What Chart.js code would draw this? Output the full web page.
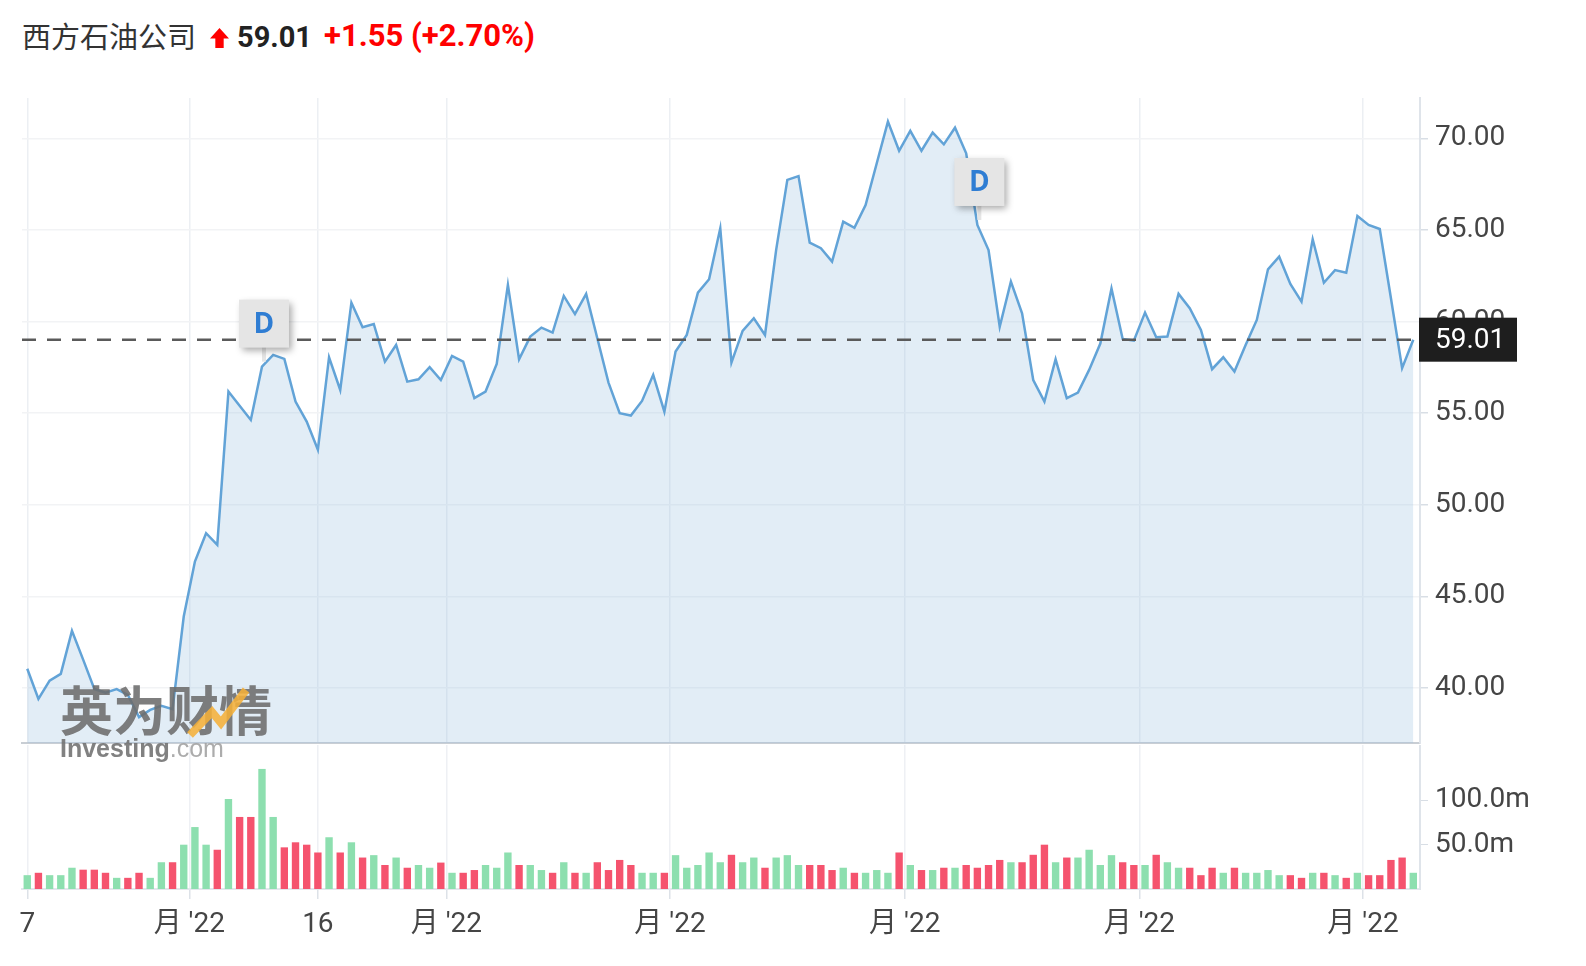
<!DOCTYPE html>
<html>
<head>
<meta charset="utf-8">
<script src="https://cdn.jsdelivr.net/npm/chart.js@4.4.1/dist/chart.umd.min.js"></script>
<style>
  body { margin: 0; background: #fff; width: 1586px; height: 966px; overflow: hidden; position: relative; font-family: Roboto, "Noto Sans CJK SC", sans-serif; }
  .hd { position: absolute; line-height: 40px; white-space: nowrap; }
  #name { left: 22px; top: 14px; font: 29px "Noto Sans CJK SC", sans-serif; color: #333; }
  #arrow { position: absolute; left: 210px; top: 28px; width: 19px; height: 20px; background: #f00;
           clip-path: polygon(50% 0, 100% 52%, 72% 52%, 72% 100%, 28% 100%, 28% 52%, 0 52%); }
  #last { left: 237px; top: 20px; font: bold 29px Roboto, sans-serif; color: #222; }
  #chg { left: 324px; top: 17px; font: bold 31px Roboto, sans-serif; color: #f00; }
  #price { position: absolute; left: 0; top: 90px; z-index: 2; }
  #vol { position: absolute; left: 0; top: 745px; z-index: 1; }
</style>
</head>
<body>
<span class="hd" id="name">西方石油公司</span>
<div id="arrow"></div>
<span class="hd" id="last">59.01</span>
<span class="hd" id="chg">+1.55 (+2.70%)</span>
<canvas id="price" width="1586" height="680"></canvas>
<canvas id="vol" width="1586" height="221"></canvas>
<script>
// daily closes
const closes = [
  41.05, 39.41, 40.40, 40.77, 43.12, 41.55, 39.95, 39.75, 39.94, 39.63,
  38.41, 38.81, 39.03, 38.85, 43.90, 46.90, 48.45, 47.81, 56.18, 55.40,
  54.63, 57.54, 58.18, 57.96, 55.63, 54.54, 53.00, 58.05, 56.27, 61.03,
  59.69, 59.87, 57.81, 58.72, 56.72, 56.85, 57.51, 56.81, 58.12, 57.81,
  55.82, 56.18, 57.69, 62.00, 57.94, 59.18, 59.67, 59.40, 61.40, 60.41,
  61.51, 59.09, 56.67, 55.00, 54.87, 55.67, 57.09, 55.08, 58.36, 59.27,
  61.58, 62.31, 65.09, 57.76, 59.49, 60.18, 59.27, 63.91, 67.73, 67.94,
  64.31, 64.00, 63.27, 65.45, 65.12, 66.36, 68.64, 70.91, 69.32, 70.41,
  69.32, 70.31, 69.67, 70.58, 69.18, 65.27, 63.90, 59.72, 62.18, 60.45,
  56.81, 55.63, 57.94, 55.82, 56.12, 57.36, 58.80, 61.80, 59.05, 58.96,
  60.49, 59.14, 59.18, 61.51, 60.73, 59.54, 57.40, 58.05, 57.27, 58.72,
  60.09, 62.85, 63.54, 62.05, 61.09, 64.49, 62.12, 62.81, 62.67, 65.76,
  65.27, 65.05, 61.27, 57.46, 59.01
];
// volume in millions
const volumes = [
  15.6, 18.3, 15.6, 15.6, 24.0, 21.8, 21.8, 18.3, 12.6, 12.6,
  18.3, 12.6, 30.2, 30.2, 50.0, 69.9, 50.0, 44.3, 101.5, 81.3,
  81.3, 135.5, 81.3, 47.0, 52.7, 50.0, 41.2, 58.4, 41.2, 52.7,
  35.5, 38.2, 27.1, 35.5, 24.0, 27.1, 24.0, 29.8, 18.3, 18.3,
  21.4, 27.1, 24.0, 41.2, 27.1, 27.1, 21.4, 18.3, 30.2, 18.3,
  18.3, 30.2, 21.4, 32.8, 27.1, 18.3, 18.3, 18.3, 38.2, 24.0,
  27.1, 41.2, 30.2, 38.6, 30.2, 35.5, 24.0, 35.5, 38.2, 27.1,
  27.1, 27.1, 21.4, 24.0, 18.3, 18.3, 21.4, 18.3, 41.2, 27.1,
  21.4, 21.4, 24.0, 24.0, 27.1, 24.0, 27.1, 32.8, 30.2, 30.2,
  38.6, 50.0, 30.2, 35.5, 35.5, 44.3, 27.1, 38.2, 30.2, 27.1,
  27.1, 38.6, 30.2, 24.0, 24.0, 15.6, 24.0, 18.3, 24.0, 18.3,
  18.3, 21.4, 15.6, 15.6, 12.6, 18.3, 18.3, 15.6, 12.6, 18.3,
  15.6, 15.6, 32.8, 35.5, 18.3
];
const dividendDays = [21, 85];
const tickPositions = [0, 14.5, 26, 37.5, 57.5, 78.5, 99.5, 119.5];
const tickLabels = ['7', "月 '22", '16', "月 '22", "月 '22", "月 '22", "月 '22", "月 '22"];
const priceTicks = [40, 45, 50, 55, 60, 65, 70];
const volTicks = [50, 100];

const lastClose = closes[closes.length - 1];
const xMin = -0.47, xMax = 124.6;
const priceTop = 90;

Chart.defaults.font.family = 'Roboto, "Noto Sans CJK SC", sans-serif';
Chart.defaults.animation = false;

const pricePts = closes.map((c, i) => ({ x: i, y: c }));
const volPts = volumes.map((v, i) => ({ x: i, y: v }));
const volColors = closes.map((c, i) => (i === 0 || c >= closes[i - 1]) ? '#8ddfaf' : '#f5536e');

// keep chart.js from adding room for half a tick label
const noPadY = s => { s.width = 166; s.paddingTop = 0; s.paddingBottom = 0; };
const noPadX = h => s => { s.height = h; s.paddingLeft = 0; s.paddingRight = 0; };

const watermark = {
  id: 'watermark',
  afterDatasetsDraw(chart) {
    const ctx = chart.ctx;
    ctx.save();
    ctx.globalAlpha = 0.88;
    ctx.fillStyle = '#6c6c6c';
    ctx.textBaseline = 'middle';
    ctx.font = 'bold 53px "Noto Sans CJK SC"';
    ctx.fillText('英为财情', 60, 711 - priceTop);
    ctx.strokeStyle = '#f5b03a';
    ctx.lineWidth = 8;
    ctx.beginPath();
    ctx.moveTo(190, 735 - priceTop);
    ctx.lineTo(212, 712 - priceTop);
    ctx.lineTo(221, 723 - priceTop);
    ctx.lineTo(246, 690 - priceTop);
    ctx.stroke();
    ctx.fillStyle = '#707070';
    ctx.font = 'bold 25px "Liberation Sans"';
    ctx.fillText('Investing', 60, 750 - priceTop);
    const w = ctx.measureText('Investing').width;
    ctx.fillStyle = '#a0a0a0';
    ctx.font = '25px "Liberation Sans"';
    ctx.fillText('.com', 60 + w, 750 - priceTop);
    ctx.restore();
  }
};

const markers = {
  id: 'markers',
  afterDraw(chart) {
    const ctx = chart.ctx;
    const xs = chart.scales.x, ys = chart.scales.y;
    ctx.save();
    dividendDays.forEach(i => {
      const px = xs.getPixelForValue(i), py = ys.getPixelForValue(closes[i]);
      const w = 50, h = 48, cx = px + 2, bottom = py - 19;
      ctx.fillStyle = '#e5e5e5';
      ctx.fillRect(cx - 2, bottom - 2, 4, 16);
      ctx.shadowColor = 'rgba(0,0,0,0.35)';
      ctx.shadowBlur = 7;
      ctx.shadowOffsetX = 3;
      ctx.shadowOffsetY = 3;
      ctx.fillRect(cx - w / 2, bottom - h, w, h);
      ctx.shadowColor = 'transparent';
      ctx.fillStyle = '#2f7dd3';
      ctx.font = 'bold 28px "Open Sans"';
      ctx.textAlign = 'center';
      ctx.textBaseline = 'middle';
      ctx.fillText('D', cx, bottom - h / 2 + 1);
    });
    const ly = ys.getPixelForValue(lastClose);
    ctx.fillStyle = '#1e1e1e';
    ctx.fillRect(chart.chartArea.right - 1, ly - 22, 98, 44);
    ctx.fillStyle = '#fff';
    ctx.font = '28px Roboto';
    ctx.textAlign = 'left';
    ctx.textBaseline = 'middle';
    ctx.fillText(lastClose.toFixed(2), chart.chartArea.right + 15, ly + 1);
    ctx.restore();
  }
};

new Chart(document.getElementById('price'), {
  type: 'line',
  data: {
    datasets: [
      {
        data: pricePts,
        borderColor: '#62a3d7',
        borderWidth: 2.5,
        backgroundColor: 'rgba(150,190,222,0.28)',
        fill: 'start',
        pointRadius: 0,
        tension: 0,
        order: 1
      },
      {
        data: [{ x: xMin, y: lastClose }, { x: xMax, y: lastClose }],
        borderColor: '#5a5a5a',
        borderWidth: 2.5,
        borderDash: [14, 11],
        pointRadius: 0,
        fill: false,
        order: 0
      }
    ]
  },
  options: {
    responsive: false,
    devicePixelRatio: 1,
    layout: { padding: { left: 22, right: 0, top: 8, bottom: 27 } },
    plugins: { legend: { display: false }, tooltip: { enabled: false } },
    scales: {
      x: {
        type: 'linear',
        min: xMin,
        max: xMax,
        afterBuildTicks: s => { s.ticks = tickPositions.map(v => ({ value: v })); },
        afterFit: noPadX(0),
        ticks: { display: false },
        grid: { color: '#eceff3', lineWidth: 1.5, drawTicks: false },
        border: { display: true, color: '#c9ced4', width: 2 }
      },
      y: {
        position: 'right',
        min: 37.0,
        max: 72.2,
        afterBuildTicks: s => { s.ticks = priceTicks.map(v => ({ value: v })); },
        afterFit: noPadY,
        ticks: { color: '#454545', font: { size: 28 }, padding: 7, callback: v => v.toFixed(2) },
        grid: { color: '#f2f3f5', lineWidth: 1.5, tickLength: 8, tickColor: '#d8dee5' },
        border: { display: true, color: '#dfe4ea', width: 2 }
      }
    }
  },
  plugins: [watermark, markers]
});

new Chart(document.getElementById('vol'), {
  type: 'bar',
  data: {
    datasets: [{
      data: volPts,
      backgroundColor: volColors,
      barPercentage: 0.66,
      categoryPercentage: 1
    }]
  },
  options: {
    responsive: false,
    devicePixelRatio: 1,
    layout: { padding: { left: 22, right: 0, top: 0, bottom: 0 } },
    plugins: { legend: { display: false }, tooltip: { enabled: false } },
    scales: {
      x: {
        type: 'linear',
        min: xMin,
        max: xMax,
        offset: false,
        afterBuildTicks: s => { s.ticks = tickPositions.map(v => ({ value: v })); },
        afterFit: noPadX(77),
        ticks: {
          color: '#454545', font: { size: 28 }, padding: 9, maxRotation: 0, autoSkip: false,
          callback: v => tickLabels[tickPositions.indexOf(v)]
        },
        grid: { offset: false, color: '#eef0f4', lineWidth: 1.5, tickLength: 10, tickColor: '#dde2e8' },
        border: { display: true, color: '#e3e7ec', width: 2 }
      },
      y: {
        position: 'right',
        min: 0,
        max: 162.5,
        afterBuildTicks: s => { s.ticks = volTicks.map(v => ({ value: v })); },
        afterFit: noPadY,
        ticks: { color: '#454545', font: { size: 28 }, padding: 7, callback: v => v.toFixed(1) + 'm' },
        grid: { drawOnChartArea: false, tickLength: 8, tickColor: '#d8dee5' },
        border: { display: true, color: '#dfe4ea', width: 2 }
      }
    }
  }
});
</script>
</body>
</html>
